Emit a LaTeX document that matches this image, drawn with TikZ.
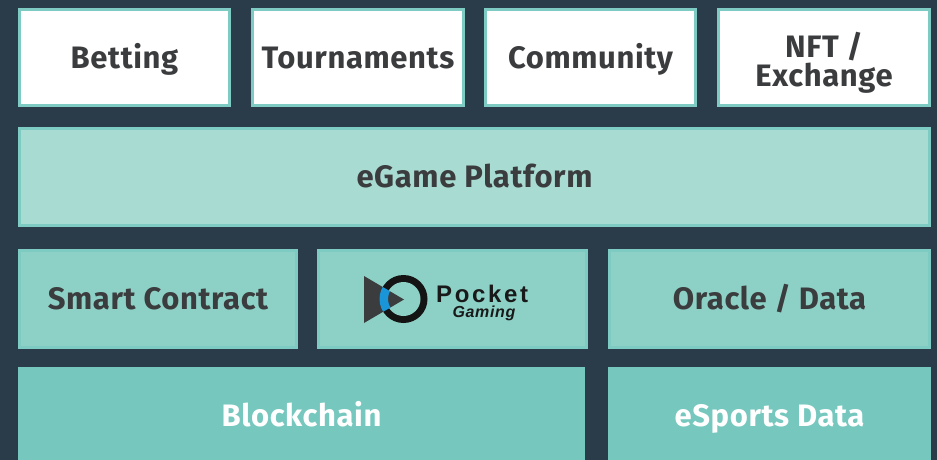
\documentclass[tikz,border=0pt]{standalone}
\usepackage{fontspec}
\setmainfont[LetterSpace=2]{Fira Sans}
\newfontfamily\logofont[LetterSpace=11]{Liberation Sans}
\newfontfamily\gamingfont[LetterSpace=4]{Liberation Sans}
\usetikzlibrary{positioning}
\definecolor{slate}{HTML}{2A3C4A}
\definecolor{ink}{HTML}{3A3C3E}
\definecolor{rim}{HTML}{7DCBC2}
\definecolor{mint}{HTML}{A8DBD2}
\definecolor{seafoam}{HTML}{8DD1C6}
\definecolor{teal}{HTML}{76C8BF}
\definecolor{logoblue}{HTML}{1A96D8}
\begin{document}
\begin{tikzpicture}
[x=1pt,y=1pt,
 tile/.style={rectangle,draw=rim,line width=3pt,minimum height=97pt,inner sep=0pt,
   align=center,text=ink,font=\fontsize{31}{29}\selectfont\bfseries,
   text height=21pt,text depth=0pt},
 toptile/.style={tile,fill=white,minimum width=210pt,minimum height=96pt},
 midtile/.style={tile,fill=seafoam},
 basetile/.style={tile,fill=teal,draw=teal,minimum height=94pt,text=white}]
\path[use as bounding box,clip] (0,0) rectangle (937,-460);
\fill[slate] (0,0) rectangle (937,-460);
% games
\node [toptile,anchor=north west] (betting) at (18,-8) {Betting};
\node [toptile,minimum width=211pt,right=20pt of betting] (tournaments) {Tournaments};
\node [toptile,right=19pt of tournaments] (community) {Community};
\node [toptile,minimum width=211pt,right=20pt of community,text height=59pt] (nft) {NFT /\\Exchange};
% platform
\node [tile,fill=mint,minimum width=910pt,anchor=north west] (platform) at (18,-127) {eGame Platform};
% middle layer
\node [midtile,minimum width=277pt,anchor=north west] (contract) at (18,-249) {Smart Contract};
\node [midtile,minimum width=268pt,right=19pt of contract] (pocket) {};
\node [midtile,minimum width=320pt,right=20pt of pocket] (oracle) {Oracle / Data};
% base layer
\node [basetile,minimum width=564pt,anchor=north west] (blockchain) at (18,-367) {Blockchain};
\node [basetile,minimum width=320pt,anchor=north west] (esports) at (608,-367) {eSports Data};
% logo
\coordinate (eye) at (403.5,-299);
\fill [black!92] (eye) circle [radius=24pt];
\fill [seafoam] (eye) circle [radius=17pt];
\fill [ink] (364,-276) -- (364,-323) -- (404,-299.5) -- cycle;
\begin{scope}
  \clip (364,-276) -- (364,-323) -- (404,-299.5) -- cycle;
  \fill [logoblue,even odd rule] (eye) circle [radius=24pt] (eye) circle [radius=15.5pt];
\end{scope}
\node [anchor=base west,inner sep=0pt,text=black!90] (pocketword) at (436,-302)
  {\logofont\fontsize{24}{24}\selectfont\bfseries Pocket};
\node [anchor=base,inner sep=0pt,text=black!90] (gaming) at (484,-317)
  {\gamingfont\fontsize{16}{16}\selectfont\bfseries\itshape Gaming};
\end{tikzpicture}
\end{document}
